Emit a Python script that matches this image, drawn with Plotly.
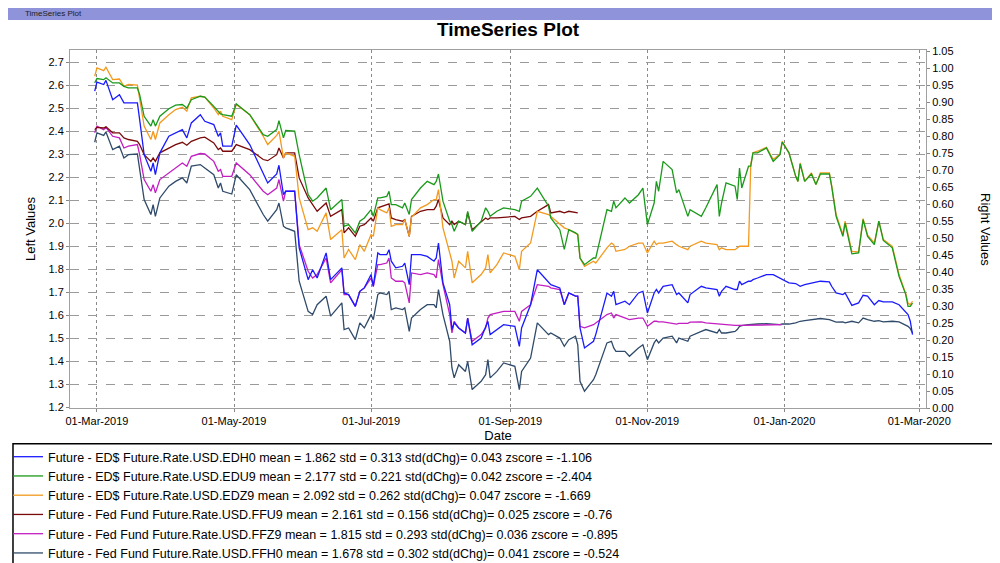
import plotly.graph_objects as go

dates = (["2019-02-28", "2019-03-01", "2019-03-04", "2019-03-05", "2019-03-08", "2019-03-11", "2019-03-13", "2019-03-15",
          "2019-03-19", "2019-03-20", "2019-03-22", "2019-03-25", "2019-03-26", "2019-03-27", "2019-03-29"]
         + ["2019-04-02", "2019-04-05", "2019-04-08", "2019-04-10", "2019-04-12", "2019-04-16", "2019-04-18", "2019-04-22",
            "2019-04-24", "2019-04-25", "2019-04-26", "2019-04-30"]
         + ["2019-05-02", "2019-05-08", "2019-05-14", "2019-05-16", "2019-05-20", "2019-05-21", "2019-05-23", "2019-05-24",
            "2019-05-28", "2019-05-30"]
         + ["2019-06-03", "2019-06-05", "2019-06-07", "2019-06-11", "2019-06-13", "2019-06-18", "2019-06-19", "2019-06-21",
            "2019-06-24", "2019-06-26", "2019-06-28"]
         + ["2019-07-01", "2019-07-02", "2019-07-04", "2019-07-05", "2019-07-08", "2019-07-09", "2019-07-10", "2019-07-12",
            "2019-07-15", "2019-07-16", "2019-07-18", "2019-07-19", "2019-07-23", "2019-07-26", "2019-07-29", "2019-07-30",
            "2019-07-31"]
         + ["2019-08-02", "2019-08-05", "2019-08-06", "2019-08-07", "2019-08-09", "2019-08-12", "2019-08-13", "2019-08-15",
            "2019-08-19", "2019-08-21", "2019-08-22", "2019-08-23", "2019-08-26", "2019-08-29"]
         + ["2019-09-03", "2019-09-05", "2019-09-06", "2019-09-10", "2019-09-13", "2019-09-18", "2019-09-19", "2019-09-23",
            "2019-09-25", "2019-09-27", "2019-09-30"]
         + ["2019-10-01", "2019-10-02", "2019-10-04", "2019-10-08", "2019-10-09", "2019-10-14", "2019-10-16", "2019-10-17",
            "2019-10-18", "2019-10-22", "2019-10-24", "2019-10-28", "2019-10-30"]
         + ["2019-11-01", "2019-11-04", "2019-11-05", "2019-11-06", "2019-11-08", "2019-11-12", "2019-11-14", "2019-11-15",
            "2019-11-19", "2019-11-20", "2019-11-25", "2019-11-27"]
         + ["2019-12-02", "2019-12-03", "2019-12-04", "2019-12-06", "2019-12-10", "2019-12-11", "2019-12-12", "2019-12-13",
            "2019-12-16", "2019-12-17", "2019-12-18", "2019-12-20", "2019-12-24", "2019-12-27", "2019-12-30", "2019-12-31"]
         + ["2020-01-03", "2020-01-06", "2020-01-07", "2020-01-08", "2020-01-10", "2020-01-13", "2020-01-15", "2020-01-17",
            "2020-01-21", "2020-01-22", "2020-01-24", "2020-01-27", "2020-01-28", "2020-01-31"]
         + ["2020-02-03", "2020-02-05", "2020-02-07", "2020-02-10", "2020-02-12", "2020-02-14", "2020-02-18", "2020-02-21",
            "2020-02-24", "2020-02-25", "2020-02-26", "2020-02-27"])

N = None

edz9 = ([2.639, 2.675, 2.663, 2.678, 2.624, 2.627, 2.595, 2.603, 2.600, 2.545, 2.422, 2.364, 2.400, 2.364, 2.436]
        + [2.472, 2.494, 2.504, 2.487, 2.545, 2.552, 2.548, 2.501, 2.472, 2.487, 2.465, 2.450]
        + [2.516, 2.472, 2.378, 2.342, 2.382, 2.400, 2.284, 2.306, 2.291, 2.110]
        + [1.972, 1.980, 1.965, 2.045, 1.929, 1.972, 1.849, 1.886, 1.842, 1.907, 1.878]
        + [1.951, 1.943, 2.067, 2.059, 2.045, 2.067, 1.987, 1.994, 1.994, 2.016, 1.943, 2.026, 2.067, 2.081, 2.103, 2.103, 2.146]
        + [1.980, 1.864, 1.835, 1.762, 1.835, 1.806, 1.878, 1.741, 1.777, 1.806, 1.864, 1.784, 1.820, 1.871]
        + [1.856, 1.798, 1.878, 1.914, 2.052, 2.038, 2.030, 1.994, 1.980, 1.972, 1.958]
        + [1.951, 1.849, 1.813, 1.835, 1.827, 1.893, 1.914, 1.907, 1.878, 1.886, 1.900, 1.914, 1.914]
        + [1.871, 1.922, 1.907, 1.914, 1.914, 1.922, 1.907, 1.900, 1.885, 1.900, 1.922, 1.914]
        + [1.907, 1.885, 1.893, 1.885, 1.885, 1.893, 1.900, 1.900, 1.900, 2.255, 2.306, 2.313, 2.330, 2.277, 2.301, 2.356]
        + [2.306, 2.204, 2.182, 2.262, 2.182, 2.219, 2.168, 2.219, 2.219, 2.165, 2.038, 1.951, 2.009, 1.878]
        + [1.875, 2.020, 1.948, 1.914, 2.009, 1.929, 1.900, 1.777, 1.693, 1.653, 1.646, 1.661])

edu9 = ([2.610, 2.629, 2.624, 2.632, 2.610, 2.610, 2.595, 2.588, 2.588, 2.559, 2.465, 2.422, 2.450, 2.422, 2.465]
        + [2.498, 2.513, 2.516, 2.501, 2.537, 2.552, 2.548, 2.508, 2.487, 2.475, 2.472, 2.465]
        + [2.519, 2.472, 2.385, 2.378, 2.407, 2.446, 2.371, 2.403, 2.400, 2.298]
        + [2.124, 2.096, 2.110, 2.153, 2.059, 2.103, 1.987, 1.994, 1.958, 2.009, 2.023]
        + [2.059, 2.030, 2.110, 2.110, 2.117, 2.139, 2.081, 2.081, 2.067, 2.088, 2.038, 2.103, 2.153, 2.182, 2.168, 2.182, 2.214]
        + [2.096, 2.009, 1.994, 1.965, 2.009, 1.994, 2.052, 1.965, 2.009, 2.067, 2.052, 2.030, 2.052, 2.067]
        + [2.059, 2.052, 2.096, 2.117, 2.153, 2.074, 2.023, 1.972, 1.886, 1.972, 1.958]
        + [1.951, 1.849, 1.820, 1.849, 1.849, 2.059, 2.052, 2.096, 2.067, 2.110, 2.088, 2.124, 2.153]
        + [1.994, 2.088, 2.182, 2.139, 2.269, 2.233, 2.132, 2.146, 2.030, 2.059, 2.030, 2.067]
        + [2.168, 2.030, 2.088, 2.175, 2.161, 2.103, 2.240, 2.153, 2.248, 2.248, 2.306, 2.306, 2.327, 2.269, 2.298, 2.353]
        + [2.306, 2.204, 2.182, 2.258, 2.182, 2.214, 2.168, 2.214, 2.214, 2.161, 2.030, 1.943, 2.001, 1.867]
        + [1.871, 2.016, 1.943, 1.907, 2.009, 1.925, 1.893, 1.769, 1.690, 1.639, 1.639, 1.653])

edh0 = ([2.574, 2.613, 2.603, 2.621, 2.537, 2.559, 2.523, 2.523, 2.523, 2.450, 2.298, 2.226, 2.262, 2.211, 2.306]
        + [2.378, 2.393, 2.407, 2.371, 2.436, 2.472, 2.443, 2.429, 2.378, 2.393, 2.335, 2.335]
        + [2.426, 2.342, 2.211, 2.175, 2.214, 2.252, 2.124, 2.139, 2.139, 1.893]
        + [1.755, 1.798, 1.762, 1.871, 1.755, 1.806, 1.697, 1.690, 1.639, 1.704, 1.719]
        + [1.777, 1.726, 1.871, 1.864, 1.864, 1.885, 1.835, 1.806, 1.813, 1.827, 1.733, 1.864, 1.864, 1.856, 1.835, 1.849, 1.914]
        + [1.741, 1.646, 1.538, 1.567, 1.545, 1.523, 1.588, 1.472, 1.501, 1.552, 1.574, 1.516, 1.538, 1.559]
        + [1.552, 1.465, 1.545, 1.646, 1.798, 1.741, 1.733, 1.719, 1.646, 1.697, 1.683]
        + [1.683, 1.545, 1.458, 1.487, 1.516, 1.697, 1.683, 1.704, 1.646, 1.661, 1.646, 1.697, 1.704]
        + [1.610, 1.697, 1.712, 1.697, 1.726, 1.733, 1.690, 1.697, 1.654, 1.690, 1.726, 1.719]
        + [1.712, 1.683, 1.704, 1.726, 1.712, 1.712, 1.748, 1.733, 1.748, 1.748, 1.755, 1.762, 1.777, 1.777, 1.762, 1.755]
        + [1.741, 1.738, 1.730, 1.726, 1.733, 1.741, 1.744, 1.748, 1.745, 1.726, 1.697, 1.690, 1.697, 1.643]
        + [1.654, 1.687, 1.683, 1.646, 1.664, 1.658, 1.658, 1.646, 1.617, 1.603, 1.574, 1.516])

ffu9 = ([2.407, 2.417, 2.414, 2.419, 2.393, 2.393, 2.371, 2.364, 2.356, 2.342, 2.298, 2.269, 2.284, 2.269, 2.306]
        + [2.327, 2.342, 2.352, 2.339, 2.356, 2.371, 2.374, 2.349, 2.320, 2.327, 2.313, 2.313]
        + [2.342, 2.320, 2.277, 2.272, 2.298, 2.327, 2.284, 2.306, 2.306, 2.197]
        + [2.110, 2.081, 2.052, 2.088, 2.030, 2.059, 1.958, 1.980, 1.943, 1.987, 1.994]
        + [2.023, 2.009, 2.067, 2.070, 2.081, 2.084, 2.023, 2.016, 2.009, 2.016, 1.943, 2.030, 2.052, 2.059, 2.059, 2.074, 2.103]
        + [2.023, 1.994, 2.009, 1.994, 2.009, 1.994, 2.045, 1.972, 2.009, 2.023, 2.016, 2.023, 2.023, 2.026]
        + [2.030, 2.016, 2.023, 2.030, 2.052, 2.081, 2.045, 2.052, 2.045, 2.052, 2.045]
        + [2.045] + [N] * 12
        + [N] * 12 + [N] * 16 + [N] * 14 + [N] * 12)

ffz9 = ([2.393, 2.422, 2.407, 2.417, 2.378, 2.371, 2.327, 2.335, 2.342, 2.298, 2.190, 2.139, 2.168, 2.132, 2.190]
        + [2.219, 2.240, 2.262, 2.248, 2.291, 2.303, 2.301, 2.269, 2.226, 2.233, 2.204, 2.204]
        + [2.262, 2.211, 2.139, 2.124, 2.153, 2.190, 2.096, 2.139, 2.139, 1.907]
        + [1.791, 1.762, 1.777, 1.849, 1.741, 1.798, 1.690, 1.690, 1.639, 1.704, 1.719]
        + [1.762, 1.726, 1.820, 1.820, 1.827, 1.849, 1.762, 1.748, 1.748, 1.741, 1.654, 1.784, 1.777, 1.784, 1.777, 1.762, 1.842]
        + [1.733, 1.603, 1.523, 1.574, 1.545, 1.523, 1.588, 1.487, 1.516, 1.545, 1.588, 1.603, 1.610, 1.617]
        + [1.617, 1.574, 1.617, 1.646, 1.733, 1.726, 1.719, 1.712, 1.646, 1.697, 1.683]
        + [1.683, 1.552, 1.545, 1.559, 1.567, 1.603, 1.610, 1.588, 1.603, 1.588, 1.581, 1.588, 1.588]
        + [1.552, 1.574, 1.574, 1.571, 1.571, 1.565, 1.562, 1.565, 1.565, 1.570, 1.571, 1.567]
        + [1.562, 1.562, 1.559, 1.559, 1.556, 1.556, 1.556, 1.556, 1.556, 1.559, 1.559, 1.559, 1.559, 1.559, 1.559, 1.559]
        + [N] * 14 + [N] * 12)

ffh0 = ([2.352, 2.393, 2.382, 2.397, 2.320, 2.335, 2.284, 2.298, 2.301, 2.240, 2.103, 2.038, 2.081, 2.030, 2.110]
        + [2.161, 2.182, 2.197, 2.175, 2.248, 2.255, 2.240, 2.211, 2.153, 2.175, 2.139, 2.127]
        + [2.211, 2.146, 2.038, 2.009, 2.059, 2.088, 1.987, 1.980, 1.965, 1.748]
        + [1.617, 1.603, 1.646, 1.683, 1.596, 1.654, 1.538, 1.545, 1.494, 1.567, 1.545]
        + [1.603, 1.581, 1.690, 1.697, 1.690, 1.704, 1.625, 1.632, 1.625, 1.632, 1.530, 1.588, 1.625, 1.646, 1.646, 1.632, 1.712]
        + [1.603, 1.487, 1.371, 1.328, 1.385, 1.356, 1.400, 1.277, 1.313, 1.342, 1.407, 1.328, 1.356, 1.393]
        + [1.378, 1.277, 1.356, 1.414, 1.567, 1.516, 1.523, 1.501, 1.465, 1.494, 1.509]
        + [1.472, 1.313, 1.270, 1.320, 1.342, 1.480, 1.487, 1.458, 1.443, 1.443, 1.422, 1.458, 1.472]
        + [1.407, 1.480, 1.494, 1.480, 1.501, 1.509, 1.480, 1.501, 1.487, 1.509, 1.530, 1.538]
        + [1.523, 1.538, 1.523, 1.523, 1.530, 1.538, 1.552, 1.555, 1.559, 1.559, 1.562, 1.562, 1.564, 1.562, 1.559, 1.562]
        + [1.562, 1.567, 1.571, 1.574, 1.577, 1.581, 1.586, 1.586, 1.581, 1.577, 1.570, 1.571, 1.567, 1.574]
        + [1.567, 1.588, 1.581, 1.574, 1.577, 1.571, 1.574, 1.571, 1.559, 1.552, 1.542, 1.523])

names = [
    "Future - ED$ Future.Rate.USD.EDH0 mean = 1.862 std = 0.313 std(dChg)= 0.043 zscore = -1.106",
    "Future - ED$ Future.Rate.USD.EDU9 mean = 2.177 std = 0.221 std(dChg)= 0.042 zscore = -2.404",
    "Future - ED$ Future.Rate.USD.EDZ9 mean = 2.092 std = 0.262 std(dChg)= 0.047 zscore = -1.669",
    "Future - Fed Fund Future.Rate.USD.FFU9 mean = 2.161 std = 0.156 std(dChg)= 0.025 zscore = -0.76",
    "Future - Fed Fund Future.Rate.USD.FFZ9 mean = 1.815 std = 0.293 std(dChg)= 0.036 zscore = -0.895",
    "Future - Fed Fund Future.Rate.USD.FFH0 mean = 1.678 std = 0.302 std(dChg)= 0.041 zscore = -0.524",
]
series = [edh0, edu9, edz9, ffu9, ffz9, ffh0]
colors = ["#1a1aff", "#1a9a1a", "#f39a1e", "#7a0a0a", "#c21ec2", "#2f4a6a"]
for s in series:
    assert len(s) == len(dates), len(s)

fig = go.Figure()
order = [5, 4, 3, 0, 2, 1]
for i in order:
    fig.add_trace(go.Scatter(x=dates, y=series[i], mode="lines", name=names[i],
                             line=dict(color=colors[i], width=1.3), legendrank=i + 1,
                             connectgaps=False))
fig.add_trace(go.Scatter(x=[dates[0]], y=[None], yaxis="y2", showlegend=False, hoverinfo="skip"))

grid = dict(showgrid=True, gridcolor="#9a9a9a", griddash="dash", gridwidth=1)
fig.update_layout(
    width=1000, height=563,
    margin=dict(l=62, r=82, t=42, b=163, autoexpand=False),
    paper_bgcolor="white", plot_bgcolor="white",
    font=dict(family="Liberation Sans, Arial", size=12, color="black"),
    title=dict(text="<b>TimeSeries Plot</b>", x=0.5, xanchor="center", y=0.962, yanchor="middle",
               font=dict(size=19, family="Liberation Sans, Arial")),
    xaxis=dict(type="date", range=["2019-02-17", "2020-03-04"], tickformat="%d-%b-%Y", tickangle=0,
               tickvals=["2019-03-01", "2019-05-01", "2019-07-01", "2019-09-01", "2019-11-01", "2020-01-01", "2020-03-01"],
               showgrid=True, gridcolor="#8a8a8a", griddash="dot", showline=True, linecolor="#a0a0a0",
               mirror=True, ticks="outside", ticklen=3, tickcolor="#888", zeroline=False,
               title=dict(text="Date", font=dict(size=13), standoff=4), tickfont=dict(size=11)),
    yaxis=dict(range=[1.197, 2.753], tickvals=[1.2 + 0.1 * k for k in range(16)], tickformat=".1f",
               showline=True, linecolor="#a0a0a0", mirror=True, ticks="outside", ticklen=3, tickcolor="#888",
               zeroline=False, tickfont=dict(size=11), **grid),
    yaxis2=dict(overlaying="y", side="right", range=[0, 1.053], tickvals=[0.05 * k for k in range(22)],
                tickformat=".2f", showgrid=False, showline=True, linecolor="#a0a0a0", ticks="outside",
                ticklen=3, tickcolor="#888", zeroline=False, tickfont=dict(size=11)),
    legend=dict(xref="container", yref="container", x=0.0, y=0.229, xanchor="left", yanchor="top",
                font=dict(size=12.5, family="Liberation Sans, Arial"), tracegroupgap=0, itemwidth=30,
                bgcolor="rgba(0,0,0,0)", traceorder="normal"),
    showlegend=True,
    shapes=[
        dict(type="rect", xref="paper", yref="paper", x0=-0.0666, x1=1.090, y0=-0.44, y1=-0.100,
             line=dict(color="black", width=1.5)),
        dict(type="rect", xref="paper", yref="paper", x0=-0.08, x1=1.10, y0=1.0838, y1=1.13,
             fillcolor="#8f93d9", line=dict(width=0), layer="below"),
    ],
    annotations=[
        dict(text="TimeSeries Plot", xref="paper", yref="paper", x=-0.055, y=1.101,
             xanchor="left", yanchor="middle", showarrow=False, font=dict(size=8, color="#222")),
        dict(text="Left Values", xref="paper", yref="paper", x=(22 - 62) / 856, y=0.5, textangle=-90,
             xanchor="center", yanchor="middle", showarrow=False, font=dict(size=13)),
        dict(text="Right Values", xref="paper", yref="paper", x=(978 - 62) / 856, y=0.5, textangle=90,
             xanchor="center", yanchor="middle", showarrow=False, font=dict(size=13)),
    ],
)
fig.write_html("out.html")
